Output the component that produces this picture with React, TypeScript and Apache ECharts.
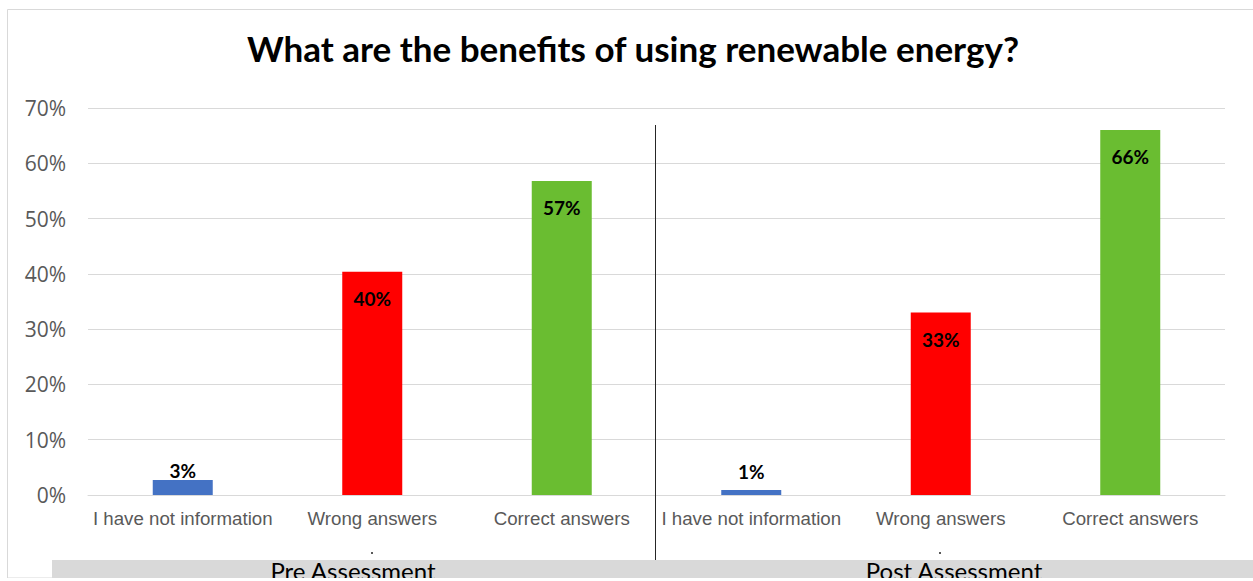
import React, { useEffect, useRef } from "react";
import * as echarts from "echarts";

const categories = [
  "I have not information",
  "Wrong answers",
  "Correct answers",
  "I have not information",
  "Wrong answers",
  "Correct answers",
];
const values = [0.027, 0.404, 0.568, 0.009, 0.33, 0.66];
const valueLabels = ["3%", "40%", "57%", "1%", "33%", "66%"];
const barColors = ["#4472C4", "#FF0000", "#6ABD31", "#4472C4", "#FF0000", "#6ABD31"];
const groupLabels = ["Pre Assessment", "Post Assessment"];
const yTicks = [0, 0.1, 0.2, 0.3, 0.4, 0.5, 0.6, 0.7];
const titleText = "What are the benefits of using renewable energy?";

export default function App() {
  const ref = useRef<HTMLDivElement>(null);
  useEffect(() => {
    if (!ref.current) return;
    const chart = echarts.init(ref.current, null, { renderer: "svg" });
    const labelFont = {
      fontFamily: "Lato, 'Open Sans', sans-serif",
      fontWeight: "bold" as const,
      fontSize: 19,
      color: "#000",
    };
    chart.setOption({
      animation: false,
      backgroundColor: "#fff",
      title: {
        text: titleText,
        left: 628,
        textAlign: "center",
        top: 25,
        textStyle: {
          fontFamily: "Lato, 'Open Sans', sans-serif",
          fontWeight: "bold",
          fontSize: 35,
          color: "#000",
        },
      },
      grid: { left: 88, right: 28, top: 108, bottom: 86, containLabel: false },
      xAxis: {
        type: "category",
        data: categories,
        axisLine: { show: true, lineStyle: { color: "#d9d9d9", width: 1 } },
        axisTick: { show: false },
        axisLabel: {
          interval: 0,
          margin: 14,
          fontFamily: "'Liberation Sans', Arial, sans-serif",
          fontSize: 18.7,
          color: "#595959",
        },
      },
      yAxis: {
        type: "value",
        min: yTicks[0],
        max: yTicks[yTicks.length - 1],
        interval: 0.1,
        axisLine: { show: false },
        axisTick: { show: false },
        splitLine: { lineStyle: { color: "#d9d9d9", width: 1 } },
        axisLabel: {
          margin: 22,
          fontFamily: "'Open Sans', sans-serif",
          fontSize: 21,
          color: "#595959",
          formatter: (v: number) => Math.round(v * 100) + "%",
        },
      },
      series: [
        {
          type: "bar",
          barWidth: 60,
          data: values.map((v, i) => {
            const small = v < 0.1;
            return {
              value: v,
              itemStyle: { color: barColors[i] },
              label: {
                show: true,
                position: small ? "top" : "insideTop",
                distance: small ? (v < 0.02 ? 9 : 0) : 17,
                formatter: valueLabels[i],
                ...labelFont,
              },
            };
          }),
        },
      ],
      graphic: [
        {
          type: "rect",
          shape: { x: 7.5, y: 9.5, width: 1300, height: 568.5 },
          style: { fill: "none", stroke: "#d9d9d9", lineWidth: 1 },
          z: 0,
        },
        {
          type: "rect",
          shape: { x: 52, y: 560, width: 1210, height: 18 },
          style: { fill: "#d9d9d9" },
          z: 1,
        },
        {
          type: "line",
          shape: { x1: 655.5, y1: 125, x2: 655.5, y2: 560 },
          style: { stroke: "#262626", lineWidth: 1 },
          z: 5,
        },
        {
          type: "rect",
          shape: { x: 371, y: 552, width: 2, height: 2 },
          style: { fill: "#595959" },
        },
        {
          type: "rect",
          shape: { x: 939, y: 552, width: 2, height: 2 },
          style: { fill: "#595959" },
        },
        {
          type: "text",
          x: 353,
          y: 558,
          z: 3,
          style: {
            text: groupLabels[0],
            textAlign: "center",
            textVerticalAlign: "top",
            fontFamily: "Lato, 'Open Sans', sans-serif",
            fontSize: 24,
            fill: "#000",
          },
        },
        {
          type: "text",
          x: 954,
          y: 558,
          z: 3,
          style: {
            text: groupLabels[1],
            textAlign: "center",
            textVerticalAlign: "top",
            fontFamily: "Lato, 'Open Sans', sans-serif",
            fontSize: 24,
            fill: "#000",
          },
        },
        {
          type: "rect",
          shape: { x: 0, y: 578, width: 1253, height: 4 },
          style: { fill: "#fff" },
          z: 10,
        },
      ],
    });
    return () => chart.dispose();
  }, []);
  return (
    <div
      ref={ref}
      style={{ position: "absolute", left: 0, top: 0, width: 1253, height: 581 }}
    />
  );
}
